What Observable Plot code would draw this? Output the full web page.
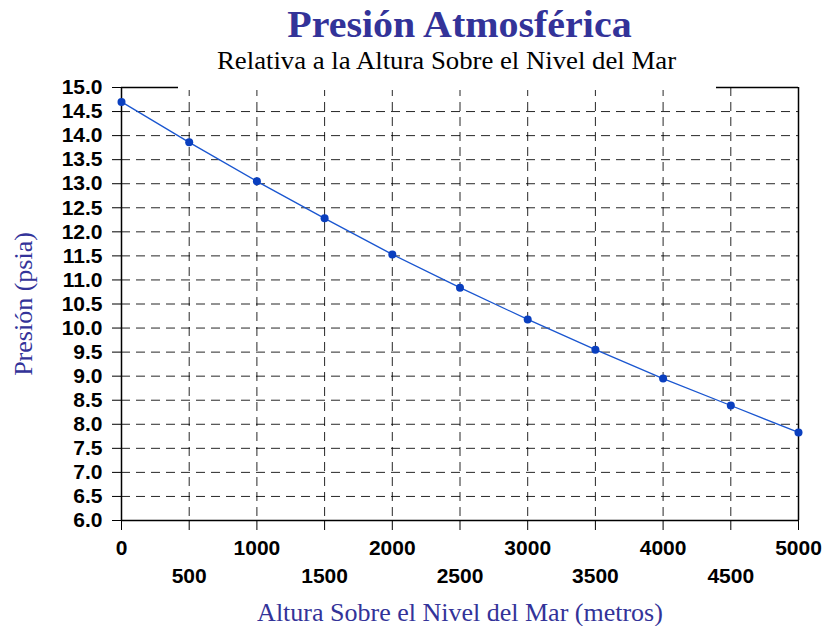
<!DOCTYPE html>
<html>
<head>
<meta charset="utf-8">
<script src="https://cdn.jsdelivr.net/npm/d3@7"></script>
<script src="https://cdn.jsdelivr.net/npm/@observablehq/plot@0.6"></script>
<style>
  html, body { margin: 0; padding: 0; background: #fff; }
  #wrap { position: relative; width: 825px; height: 626px; }
  #title { position: absolute; left: 121px; width: 677px; top: 6px; text-align: center;
    font-family: "Liberation Serif", "Times New Roman", serif; font-weight: bold; font-size: 37px;
    line-height: 37px; color: #333399; z-index: 2; }
  #subtitle { position: absolute; left: 178px; width: 538px; top: 48px; padding-bottom: 17px; text-align: center;
    font-family: "Liberation Serif", "Times New Roman", serif; font-size: 25px; line-height: 25px;
    color: #000; background: #fff; z-index: 2; }
  .stretch { display: inline-block; transform-origin: center; white-space: nowrap; }
  #title .stretch { transform: scaleX(1.08); }
  #subtitle .stretch { transform: scaleX(1.07); }
  #chart { position: absolute; left: 0; top: 0; z-index: 1; }
</style>
</head>
<body>
<div id="wrap">
  <div id="title"><span class="stretch"></span></div>
  <div id="subtitle"><span class="stretch"></span></div>
  <div id="chart"></div>
</div>
<script>
const titleText = "Presión Atmosférica";
const subtitleText = "Relativa a la Altura Sobre el Nivel del Mar";
const xLabel = "Altura Sobre el Nivel del Mar (metros)";
const yLabel = "Presión (psia)";

const altitudes = [0, 500, 1000, 1500, 2000, 2500, 3000, 3500, 4000, 4500, 5000];
const pressures = [14.70, 13.86, 13.05, 12.28, 11.53, 10.84, 10.18, 9.55, 8.95, 8.39, 7.83];

const yTicks = [6.0, 6.5, 7.0, 7.5, 8.0, 8.5, 9.0, 9.5, 10.0, 10.5, 11.0, 11.5, 12.0, 12.5, 13.0, 13.5, 14.0, 14.5, 15.0];
const xTicksRow1 = [0, 1000, 2000, 3000, 4000, 5000];
const xTicksRow2 = [500, 1500, 2500, 3500, 4500];
const xDomain = [0, 5000];
const yDomain = [6, 15];

document.querySelector("#title .stretch").textContent = titleText;
document.querySelector("#subtitle .stretch").textContent = subtitleText;

const data = altitudes.map((a, i) => ({alt: a, p: pressures[i]}));
const yGrid = yTicks.filter(v => v > yDomain[0] && v < yDomain[1]);
const xGrid = altitudes.filter(v => v > xDomain[0] && v < xDomain[1]);

const serif = "Liberation Serif, Times New Roman, serif";
const labelColor = "#333399";

const chart = Plot.plot({
  width: 825,
  height: 626,
  marginLeft: 121,
  marginRight: 27,
  marginTop: 87,
  marginBottom: 106,
  style: {fontFamily: "Liberation Sans, Arial, sans-serif", fontWeight: "bold", fontSize: "21px", color: "#000", background: "#fff"},
  x: {domain: xDomain},
  y: {domain: yDomain},
  marks: [
    Plot.gridY(yGrid, {stroke: "#000", strokeOpacity: 0.85, strokeDasharray: "9,6"}),
    Plot.gridX(xGrid, {stroke: "#000", strokeOpacity: 0.85, strokeDasharray: "9,6"}),
    Plot.ruleY([yDomain[0], yDomain[1]], {stroke: "#000", strokeWidth: 1.5}),
    Plot.ruleX([xDomain[0], xDomain[1]], {stroke: "#000", strokeWidth: 1.5}),
    Plot.axisY({ticks: yTicks, tickFormat: d3.format(".1f"), tickSize: 9, tickPadding: 10, label: null, fontSize: 21, fontWeight: "bold"}),
    Plot.axisX({ticks: xTicksRow1, tickFormat: d => String(d), tickSize: 10, tickPadding: 10, label: null, fontSize: 21, fontWeight: "bold"}),
    Plot.axisX({ticks: xTicksRow2, tickFormat: d => String(d), tickSize: 10, tickPadding: 38, label: null, fontSize: 21, fontWeight: "bold"}),
    Plot.line(data, {x: "alt", y: "p", stroke: "#1a56d0", strokeWidth: 1.3}),
    Plot.dot(data, {x: "alt", y: "p", r: 4, fill: "#0a3fbf", stroke: "none"}),
    Plot.text([yLabel], {frameAnchor: "left", textAnchor: "middle", lineAnchor: "middle", dx: -98, rotate: -90, fontFamily: serif, fontWeight: "normal", fontSize: 26, fill: labelColor}),
    Plot.text([xLabel], {frameAnchor: "bottom", textAnchor: "middle", lineAnchor: "middle", dy: 92, fontFamily: serif, fontWeight: "normal", fontSize: 26, fill: labelColor})
  ]
});
document.getElementById("chart").appendChild(chart);
</script>
</body>
</html>
